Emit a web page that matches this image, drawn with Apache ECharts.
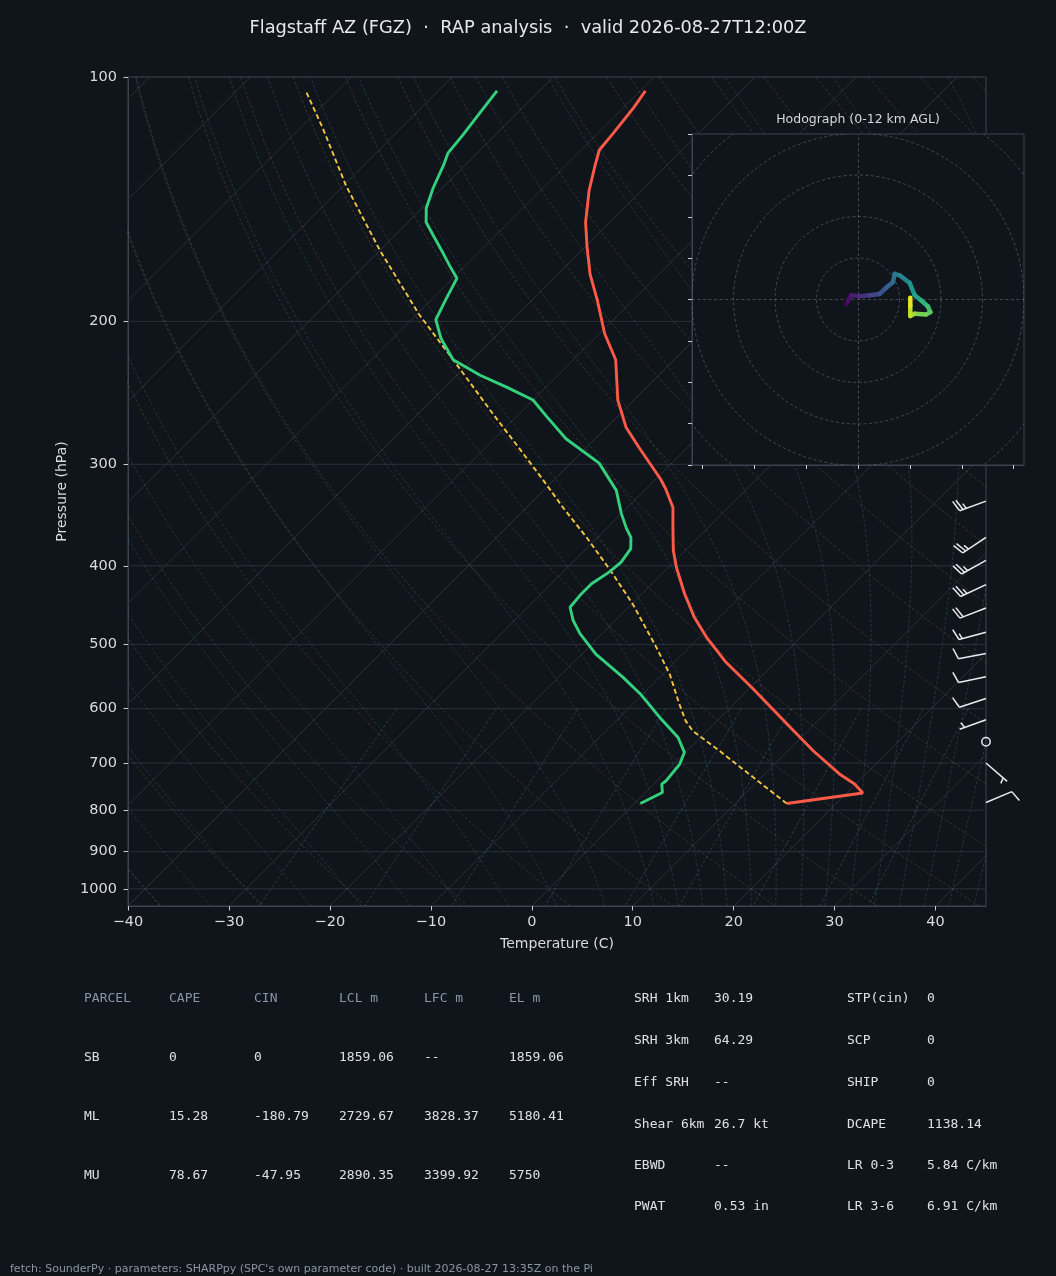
<!DOCTYPE html>
<html>
<head>
<meta charset="utf-8">
<script src="https://cdn.jsdelivr.net/npm/echarts@6/dist/echarts.min.js"></script>
<style>
html, body { margin: 0; padding: 0; background: #10151b; }
#chart { width: 1056px; height: 1276px; }
</style>
</head>
<body>
<div id="chart"></div>
<script>
// ---- sounding data ----
const TEMP_P = [104, 109, 117, 123, 128, 138, 151, 162, 175, 188, 207, 223, 250, 270, 286, 313, 322, 339, 359, 383, 402, 433, 463, 490, 526, 567, 626, 676, 722, 743, 762, 785];
const TEMP_C = [-69.5, -69.0, -68.5, -68.2, -67.2, -65.2, -62.4, -59.8, -56.8, -53.6, -49.5, -45.8, -41.6, -38.1, -34.8, -29.5, -28.0, -25.5, -23.5, -21.2, -19.2, -15.8, -12.5, -9.3, -4.9, 0.4, 7.2, 12.5, 17.4, 19.9, 21.6, 15.1];

const DEW_P = [104, 111, 118, 124, 128, 137, 145, 151, 157, 165, 171, 177, 188, 199, 210, 223, 233, 241, 250, 262, 279, 299, 323, 345, 360, 369, 381, 396, 407, 421, 435, 450, 467, 485, 514, 549, 575, 615, 651, 679, 702, 736, 743, 761, 785];
const DEW_C = [-84.2, -83.7, -83.2, -82.9, -82.2, -80.9, -79.6, -78.2, -76.1, -73.4, -71.5, -69.6, -68.6, -67.6, -65.2, -61.9, -57.7, -53.9, -50.0, -47.0, -42.9, -37.2, -32.8, -30.0, -28.0, -26.7, -25.6, -25.2, -25.4, -26.0, -26.0, -25.8, -24.2, -22.2, -18.6, -13.6, -10.3, -6.0, -2.2, -0.1, 0.6, 0.9, 0.8, 1.7, 0.6];

const PARCEL_P = [104.5, 116, 136, 163.5, 196, 223, 260, 288, 313, 339, 369, 405, 446, 504, 544, 592, 621, 639, 676, 729, 785];
const PARCEL_C = [-102.9, -97.6, -89.8, -80.0, -69.8, -61.9, -52.6, -46.3, -41.2, -36.4, -31.1, -25.5, -19.9, -13.3, -9.3, -5.4, -3.1, -1.4, 3.2, 9.2, 15.1];

// wind barbs: pressure (hPa), direction (deg from), speed (kt)
const BARB_P = [333, 369, 394, 422, 451, 483, 513, 548, 583, 619, 659, 700, 783];
const BARB_DIR = [250, 236, 241, 245, 249, 255, 259, 258, 252, 250, 0, 131, 67];
const BARB_KT = [25, 25, 25, 25, 20, 15, 10, 10, 10, 5, 0, 5, 10];

// hodograph: u, v (kt) and height (km AGL)
const HODO_U = [-5.6, -4.8, -3.2, 0.8, 5.6, 10.4, 13.7, 16.9, 17.7, 20.1, 24.9, 27.3, 30.5, 33.7, 34.9, 32.9, 27.3, 25.2, 25.2, 25.2];
const HODO_V = [-2.4, -0.8, 2.1, 1.6, 2.1, 2.7, 5.8, 8.5, 12.4, 11.7, 8.0, 2.1, -0.5, -3.4, -6.1, -7.2, -6.9, -8.0, -3.0, 0.8];
const HODO_H = [0, 0.3, 0.7, 1.3, 2.0, 2.8, 3.4, 4.0, 4.6, 5.0, 5.8, 6.6, 7.3, 8.0, 8.6, 9.2, 9.9, 10.5, 11.2, 12];
const HODO_RINGS = [20, 40, 60, 80, 100];
const HODO_X_TICKS = [-75, -50, -25, 0, 25, 50, 75];

// axes
const PRESSURE_TICKS = [100, 200, 300, 400, 500, 600, 700, 800, 900, 1000];
const TEMP_TICKS = [-40, -30, -20, -10, 0, 10, 20, 30, 40];
const P_TOP = 100, P_BOTTOM = 1050, T_LEFT = -40, T_RIGHT = 45;

// reference lines of the diagram
const ISOTHERMS = [-120, -110, -100, -90, -80, -70, -60, -50, -40, -30, -20, -10, 0, 10, 20, 30, 40];
const DRY_T0 = [-40, -30, -20, -10, 0, 10, 20, 30, 40, 50, 60, 70, 80, 90, 100, 110, 120, 130, 140, 150, 160, 170, 180, 190, 200];
const MOIST_T0 = [-50, -45, -40, -35, -30, -25, -20, -15, -10, -5, 0, 5, 10, 12.5, 15, 17.5, 20, 22.5, 25, 27.5, 30, 32.5, 35, 37.5, 40, 42.5, 45];
const MIX_GKG = [0.4, 1, 2, 4, 7, 10, 16, 24, 32];

// text panels
const PARCEL_HEAD = ['PARCEL', 'CAPE', 'CIN', 'LCL m', 'LFC m', 'EL m'];
const PARCEL_ROWS = [
    ['SB', '0', '0', '1859.06', '--', '1859.06'],
    ['ML', '15.28', '-180.79', '2729.67', '3828.37', '5180.41'],
    ['MU', '78.67', '-47.95', '2890.35', '3399.92', '5750']
];
const INDEX_A = [['SRH 1km', '30.19'], ['SRH 3km', '64.29'], ['Eff SRH', '--'], ['Shear 6km', '26.7 kt'], ['EBWD', '--'], ['PWAT', '0.53 in']];
const INDEX_B = [['STP(cin)', '0'], ['SCP', '0'], ['SHIP', '0'], ['DCAPE', '1138.14'], ['LR 0-3', '5.84 C/km'], ['LR 3-6', '6.91 C/km']];

const TITLE = 'Flagstaff AZ (FGZ)  \u00b7  RAP analysis  \u00b7  valid 2026-08-27T12:00Z';
const FOOTER = "fetch: SounderPy \u00b7 parameters: SHARPpy (SPC's own parameter code) \u00b7 built 2026-08-27 13:35Z on the Pi";

// ---- layout ----
const MAIN = {left: 128, top: 77, w: 858, h: 829};
const HODO = {left: 692, top: 134, w: 332, h: 331};
const BG = '#10151b';
const SPINE = '#3a4451';
const TXT = '#d8dbe0';

const lp = p => Math.log10(p);
const LB = lp(P_BOTTOM);
// 45 degree skew in pixels
const SKEW = (MAIN.h / (LB - lp(P_TOP))) / (MAIN.w / (T_RIGHT - T_LEFT));
const pt = (p, t) => [t + SKEW * (LB - lp(p)), lp(p)];

function pressures(step) {
    const out = [];
    for (let p = P_TOP; p <= P_BOTTOM; p += step) out.push(p);
    return out;
}

// dry adiabats
const dryLines = DRY_T0.map(t0 => ({
    coords: pressures(10).map(p => pt(p, (t0 + 273.15) * Math.pow(p / 1000, 0.2857) - 273.15))
}));

// moist adiabats (pseudo-adiabatic, RK4 from 1000 hPa)
function moistAdiabat(t0) {
    const Rd = 287.04, Cp = 1005.7, Lv = 2.501e6, eps = 0.622;
    const f = (p, T) => {
        const tc = T - 273.15;
        const es = 6.112 * Math.exp(17.67 * tc / (tc + 243.5));
        const rs = eps * es / (p - es);
        return (Rd * T + Lv * rs) / (Cp + Lv * Lv * rs * eps / (Rd * T * T)) / p;
    };
    const rk = (p, T, h) => {
        const k1 = f(p, T), k2 = f(p + h / 2, T + h * k1 / 2), k3 = f(p + h / 2, T + h * k2 / 2), k4 = f(p + h, T + h * k3);
        return T + h * (k1 + 2 * k2 + 2 * k3 + k4) / 6;
    };
    let T = t0 + 273.15;
    const up = [[1000, T]];
    for (let p = 1000; p > P_TOP; p -= 5) { T = rk(p, T, -5); up.push([p - 5, T]); }
    T = t0 + 273.15;
    const down = [];
    for (let p = 1000; p < P_BOTTOM; p += 5) { T = rk(p, T, 5); down.push([p + 5, T]); }
    return down.reverse().concat(up).map(d => pt(d[0], d[1] - 273.15));
}
const moistLines = MOIST_T0.map(t0 => ({coords: moistAdiabat(t0)}));

// mixing ratio lines 600 hPa to bottom
const mixLines = MIX_GKG.map(w => {
    const coords = [];
    for (let p = 600; p <= P_BOTTOM; p += 10) {
        const e = (w / 1000) * p / (0.622 + w / 1000);
        const l = Math.log(e / 6.112);
        coords.push(pt(p, 243.5 * l / (17.67 - l)));
    }
    return {coords};
});

const isoLines = ISOTHERMS.map(t => ({coords: [pt(P_BOTTOM, t), pt(P_TOP, t)]}));
const isobarLines = PRESSURE_TICKS.map(p => ({coords: [[T_LEFT, lp(p)], [T_RIGHT, lp(p)]]}));

function refSeries(data, color, type, width) {
    return {
        type: 'lines', coordinateSystem: 'cartesian2d', xAxisIndex: 0, yAxisIndex: 0,
        polyline: true, silent: true, clip: true, z: 1, data,
        lineStyle: {color, width, type, opacity: 1}
    };
}
function profile(P, C, color, width, type) {
    return {
        type: 'line', xAxisIndex: 0, yAxisIndex: 0, showSymbol: false, silent: true, z: 3,
        data: P.map((p, i) => pt(p, C[i])),
        lineStyle: {color, width, type}
    };
}

// viridis colour map
const VIRIDIS = ['#440154', '#482475', '#414487', '#355f8d', '#2a788e', '#21918c', '#22a884', '#44bf70', '#7ad151', '#bddf26', '#fde725'];
function viridis(t) {
    t = Math.max(0, Math.min(1, t)) * (VIRIDIS.length - 1);
    const i = Math.min(Math.floor(t), VIRIDIS.length - 2), f = t - i;
    const a = VIRIDIS[i], b = VIRIDIS[i + 1];
    const c = k => Math.round(parseInt(a.substr(k, 2), 16) * (1 - f) + parseInt(b.substr(k, 2), 16) * f);
    return 'rgb(' + c(1) + ',' + c(3) + ',' + c(5) + ')';
}

const hodoSegs = [];
for (let i = 0; i < HODO_U.length - 1; i++) {
    hodoSegs.push([HODO_U[i], HODO_V[i], HODO_U[i + 1], HODO_V[i + 1], (HODO_H[i] + HODO_H[i + 1]) / 2]);
}

// wind barb drawing (matplotlib-like proportions)
function barbItem(params, api) {
    const base = api.coord([api.value(0), api.value(1)]);
    const dir = api.value(2) * Math.PI / 180;
    const spd = Math.round(api.value(3) / 5) * 5;
    const stroke = '#e8ecef';
    if (spd < 5) {
        return {type: 'circle', shape: {cx: base[0], cy: base[1], r: 4.2}, style: {fill: 'none', stroke, lineWidth: 1.5}};
    }
    const L = 28, H = 0.4 * L, W2 = 0.125 * L, S = 0.125 * L;
    const dx = Math.sin(dir), dy = -Math.cos(dir);
    const px = -dy, py = dx;
    const children = [{type: 'line', shape: {x1: base[0], y1: base[1], x2: base[0] + dx * L, y2: base[1] + dy * L}, style: {stroke, lineWidth: 1.5}}];
    const feather = (off, h, w) => {
        const bx = base[0] + dx * off, by = base[1] + dy * off;
        children.push({type: 'line', shape: {x1: bx, y1: by, x2: bx + px * h + dx * w, y2: by + py * h + dy * w}, style: {stroke, lineWidth: 1.5}});
    };
    let off = L;
    const full = Math.floor(spd / 10), half = spd % 10 >= 5;
    for (let i = 0; i < full; i++) { feather(off, H, W2); off -= S; }
    if (half) {
        if (off === L) off -= 1.5 * S;
        feather(off, H / 2, W2 / 2);
    }
    return {type: 'group', children};
}

const minus = v => (v < 0 ? '\u2212' + Math.abs(v) : String(v));

const chart = echarts.init(document.getElementById('chart'), null, {renderer: 'canvas'});

const graphics = [
    {type: 'text', x: 528, y: 28, style: {text: TITLE, fill: '#e6e8eb', font: '17.8px "DejaVu Sans"', align: 'center', verticalAlign: 'middle'}},
    {type: 'text', x: 858, y: 120, z: 10, style: {text: 'Hodograph (0-12 km AGL)', fill: '#d5d8dc', font: '12.5px "DejaVu Sans"', align: 'center', verticalAlign: 'middle'}},
    {type: 'text', x: 10, y: 1269, style: {text: FOOTER, fill: '#8a95a2', font: '11px "DejaVu Sans"', verticalAlign: 'middle'}}
];
const COLS = [84, 169, 254, 339, 424, 509];
const ROWS = [999, 1058, 1117, 1176];
PARCEL_HEAD.forEach((h, j) => graphics.push({type: 'text', x: COLS[j], y: ROWS[0], style: {text: h, fill: '#8696a8', font: '13px "DejaVu Sans Mono"', verticalAlign: 'middle'}}));
PARCEL_ROWS.forEach((r, i) => r.forEach((v, j) => graphics.push({type: 'text', x: COLS[j], y: ROWS[i + 1], style: {text: v, fill: '#dde1e6', font: '13px "DejaVu Sans Mono"', verticalAlign: 'middle'}})));
const IROWS = [999, 1041, 1083, 1125, 1166, 1207];
[[INDEX_A, 634, 714], [INDEX_B, 847, 927]].forEach(([rows, xl, xv]) => rows.forEach((r, i) => {
    graphics.push({type: 'text', x: xl, y: IROWS[i], style: {text: r[0], fill: '#dde1e6', font: '13px "DejaVu Sans Mono"', verticalAlign: 'middle'}});
    graphics.push({type: 'text', x: xv, y: IROWS[i], style: {text: r[1], fill: '#dde1e6', font: '13px "DejaVu Sans Mono"', verticalAlign: 'middle'}});
}));

chart.setOption({
    backgroundColor: BG,
    animation: false,
    textStyle: {fontFamily: 'DejaVu Sans'},
    graphic: graphics,
    grid: [
        {left: MAIN.left, top: MAIN.top, width: MAIN.w, height: MAIN.h, show: true, borderColor: SPINE, borderWidth: 1, backgroundColor: 'transparent', z: 0},
        {left: HODO.left, top: HODO.top, width: HODO.w, height: HODO.h, show: true, borderColor: SPINE, borderWidth: 1, backgroundColor: BG, z: 4}
    ],
    xAxis: [
        {
            type: 'value', gridIndex: 0, min: T_LEFT, max: T_RIGHT,
            name: 'Temperature (C)', nameLocation: 'middle', nameGap: 31,
            nameTextStyle: {color: TXT, fontSize: 14},
            axisLine: {show: true, onZero: false, lineStyle: {color: SPINE}},
            axisTick: {show: true, length: 4.5, customValues: TEMP_TICKS, lineStyle: {color: '#c9cdd2'}},
            axisLabel: {customValues: TEMP_TICKS, color: TXT, fontSize: 14.5, margin: 9, formatter: minus},
            splitLine: {show: false}
        },
        {
            type: 'value', gridIndex: 1, min: -80, max: 80, z: 5,
            axisLine: {show: true, onZero: false, lineStyle: {color: SPINE}},
            axisTick: {show: true, length: 4, customValues: HODO_X_TICKS, lineStyle: {color: '#c9cdd2'}},
            axisLabel: {show: false},
            splitLine: {show: false}
        }
    ],
    yAxis: [
        {
            type: 'value', gridIndex: 0, min: lp(P_TOP), max: LB, inverse: true,
            name: 'Pressure (hPa)', nameLocation: 'middle', nameGap: 58, nameRotate: 90,
            nameTextStyle: {color: TXT, fontSize: 14},
            axisLine: {show: true, onZero: false, lineStyle: {color: SPINE}},
            axisTick: {show: true, length: 4.5, customValues: PRESSURE_TICKS.map(lp), lineStyle: {color: '#c9cdd2'}},
            axisLabel: {customValues: PRESSURE_TICKS.map(lp), color: TXT, fontSize: 14.5, margin: 11,
                formatter: v => String(Math.round(Math.pow(10, v)))},
            splitLine: {show: false}
        },
        {
            type: 'value', gridIndex: 1, min: -80, max: 80, interval: 20, z: 5,
            axisLine: {show: true, onZero: false, lineStyle: {color: SPINE}},
            axisTick: {show: true, length: 4, lineStyle: {color: '#c9cdd2'}},
            axisLabel: {show: false},
            splitLine: {show: false}
        }
    ],
    series: [
        refSeries(isobarLines, '#27303b', 'solid', 1),
        refSeries(isoLines, '#29313b', 'solid', 1),
        refSeries(dryLines, 'rgba(190,135,80,0.32)', [3, 2], 0.8),
        refSeries(moistLines, 'rgba(100,145,175,0.32)', [3, 2], 0.8),
        refSeries(mixLines, 'rgba(70,150,160,0.42)', [3, 2], 0.8),
        profile(PARCEL_P, PARCEL_C, '#f4c542', 1.9, [5, 3]),
        profile(DEW_P, DEW_C, '#34d17c', 2.9, 'solid'),
        profile(TEMP_P, TEMP_C, '#ff5a47', 2.9, 'solid'),
        {
            type: 'custom', xAxisIndex: 0, yAxisIndex: 0, silent: true, clip: false, z: 3,
            data: BARB_P.map((p, i) => [T_RIGHT, lp(p), BARB_DIR[i], BARB_KT[i]]),
            encode: {x: 0, y: 1},
            renderItem: barbItem
        },
        // hodograph rings and crosshair
        {
            type: 'custom', xAxisIndex: 1, yAxisIndex: 1, silent: true, clip: true, z: 6,
            data: HODO_RINGS.map(r => [0, 0, r]),
            encode: {x: 0, y: 1},
            renderItem: (params, api) => {
                const c = api.coord([0, 0]);
                const r = api.size([api.value(2), 0])[0];
                return {type: 'circle', shape: {cx: c[0], cy: c[1], r}, style: {fill: 'none', stroke: 'rgba(135,148,165,0.45)', lineWidth: 0.9, lineDash: [3, 2.5]}};
            }
        },
        {
            type: 'lines', coordinateSystem: 'cartesian2d', xAxisIndex: 1, yAxisIndex: 1, silent: true, z: 6,
            data: [{coords: [[-80, 0], [80, 0]]}, {coords: [[0, -80], [0, 80]]}],
            lineStyle: {color: 'rgba(135,148,165,0.45)', width: 0.9, type: [3, 2.5], opacity: 1}
        },
        {
            type: 'custom', xAxisIndex: 1, yAxisIndex: 1, silent: true, clip: true, z: 7,
            data: hodoSegs,
            encode: {x: [0, 2], y: [1, 3]},
            renderItem: (params, api) => {
                const a = api.coord([api.value(0), api.value(1)]);
                const b = api.coord([api.value(2), api.value(3)]);
                return {type: 'line', shape: {x1: a[0], y1: a[1], x2: b[0], y2: b[1]},
                    style: {stroke: viridis(api.value(4) / 12), lineWidth: 4.5, lineCap: 'round'}};
            }
        }
    ]
});
</script>
</body>
</html>
